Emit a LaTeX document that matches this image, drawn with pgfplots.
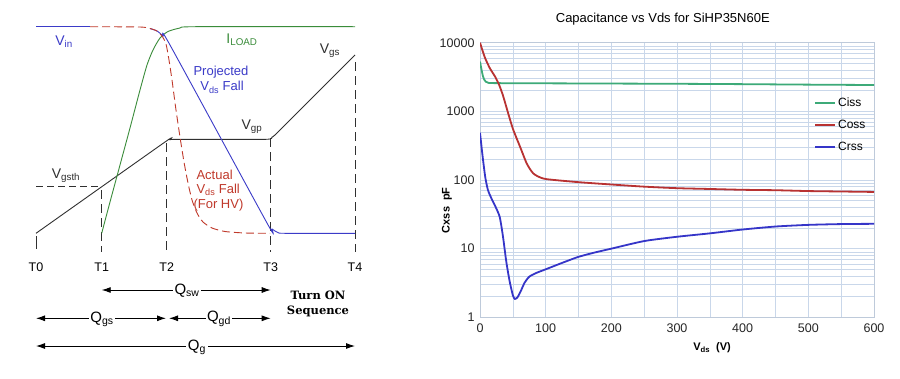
\documentclass[border=0pt]{standalone}
\usepackage{pgfplots}
\pgfplotsset{compat=1.18}
\usetikzlibrary{arrows.meta}
\usepackage{fontspec}
\setmainfont{Liberation Sans}
\newfontfamily\tserif{DejaVu Serif}
\definecolor{lblue}{HTML}{3B3BC8}
\definecolor{lgreen}{HTML}{3A8C3A}
\definecolor{lred}{HTML}{C0392B}
\definecolor{lblack}{HTML}{303030}
\definecolor{cgreen}{HTML}{3DAA78}
\definecolor{cred}{HTML}{B83232}
\definecolor{cblue}{HTML}{3535C8}
\definecolor{gridc}{HTML}{C9D7EA}
\newcommand{\fs}[1]{\fontsize{#1pt}{#1pt}\selectfont}
\begin{document}
\begin{tikzpicture}
\begin{axis}[at={(0,0)}, anchor=south west, scale only axis, width=900pt, height=378pt,
  xmin=0, xmax=900, ymin=0, ymax=378, y dir=reverse, hide axis, clip=false]
\fill[white] (axis cs:0,0) rectangle (axis cs:900,378);
% Vgsth and time markers
\addplot[lblack, line width=0.9pt, dash pattern=on 7pt off 4pt] coordinates {(36,186.7) (100,186.7)};
\addplot[lblack, line width=0.9pt] coordinates {(36,236) (36,249)};
\addplot[lblack, line width=0.9pt, dash pattern=on 9pt off 5pt] coordinates {(101.7,190) (101.7,252)};
\addplot[lblack, line width=0.9pt, dash pattern=on 9pt off 5pt] coordinates {(166.7,143) (166.7,252)};
\addplot[lblack, line width=0.9pt, dash pattern=on 9pt off 5pt] coordinates {(270.7,138) (270.7,252)};
\addplot[lblack, line width=0.9pt, dash pattern=on 9pt off 5pt] coordinates {(355,62) (355,252)};
% Vgs
\addplot[lblack, line width=0.9pt, smooth, tension=0.3] coordinates {(36,233.3) (165,142) (170,139.7) (175,139.3) (266,139.3) (272,137) (278,132) (355,55)};
% ILOAD
\addplot[lgreen, line width=0.9pt, smooth, tension=0.4] coordinates {(101.7,233.3) (110,202) (120,165) (130,128) (140,90) (147,65) (153,50) (160,38) (168,31.5) (180,28) (195,26.7) (355,26.7)};
% Vin / projected Vds
\addplot[lblue, line width=0.9pt] coordinates {(36,26.7) (90,26.7)};
\addplot[lblue, line width=0.9pt, smooth, tension=0.4] coordinates {(150,28.5) (157,31) (163,36) (170,45) (267,223) (272,229) (278,232.5) (285,233.3) (355,233.3)};
% actual Vds
\addplot[lred, line width=0.9pt, dash pattern=on 8pt off 4pt, smooth, tension=0.4] coordinates {(90,26.7) (140,27) (150,28.5) (157,31) (162,36) (166,44) (169,60) (172,80) (176,110) (180,137) (184,162) (188,183) (192,200) (197,213) (203,222) (212,228) (225,231.5) (245,233) (270,233.3)};
% charge arrows
\addplot[black, line width=0.9pt, arrows={Latex[length=9pt,width=6pt]-Latex[length=9pt,width=6pt]}] coordinates {(101.7,290) (270.7,290)};
\addplot[black, line width=0.9pt, arrows={Latex[length=9pt,width=6pt]-Latex[length=9pt,width=6pt]}] coordinates {(36,318.3) (166,318.3)};
\addplot[black, line width=0.9pt, arrows={Latex[length=9pt,width=6pt]-Latex[length=9pt,width=6pt]}] coordinates {(169,318.3) (270.7,318.3)};
\addplot[black, line width=0.9pt, arrows={Latex[length=9pt,width=6pt]-Latex[length=9pt,width=6pt]}] coordinates {(36,346) (355,346)};
% labels
\node[lblue, font=\fs{14}] at (axis cs:64,42) {V\textsubscript{in}};
\node[lgreen, font=\fs{14}] at (axis cs:242,40) {I\textsubscript{LOAD}};
\node[lblack, font=\fs{14}] at (axis cs:330,51) {V\textsubscript{gs}};
\node[lblue, font=\fs{13}] at (axis cs:221,72.5) {Projected};
\node[lblue, font=\fs{13}] at (axis cs:222,87.5) {V\textsubscript{ds} Fall};
\node[lblack, font=\fs{14}] at (axis cs:252,127) {V\textsubscript{gp}};
\node[lblack, font=\fs{14}] at (axis cs:66,176) {V\textsubscript{gsth}};
\node[lred, font=\fs{13}, anchor=west] at (axis cs:193,175) {Actual};
\node[lred, font=\fs{13}, anchor=west] at (axis cs:193,190) {V\textsubscript{ds} Fall};
\node[lred, font=\fs{13}, anchor=west] at (axis cs:190,205) {(For HV)};
\node[font=\fs{12.5}] at (axis cs:36,267) {T0};
\node[font=\fs{12.5}] at (axis cs:101.7,267) {T1};
\node[font=\fs{12.5}] at (axis cs:166.7,267) {T2};
\node[font=\fs{12.5}] at (axis cs:270.7,267) {T3};
\node[font=\fs{12.5}] at (axis cs:355,267) {T4};
\node[font=\fs{15}, fill=white, inner sep=1.5pt] at (axis cs:187,291) {Q\textsubscript{sw}};
\node[font=\fs{15}, fill=white, inner sep=1.5pt] at (axis cs:102,319) {Q\textsubscript{gs}};
\node[font=\fs{15}, fill=white, inner sep=1.5pt] at (axis cs:219,319) {Q\textsubscript{gd}};
\node[font=\fs{15}, fill=white, inner sep=1.5pt] at (axis cs:197,347) {Q\textsubscript{g}};
\node[font={\tserif\bfseries\fs{11.5}}] at (axis cs:318,295.5) {Turn ON};
\node[font={\tserif\bfseries\fs{11.5}}] at (axis cs:318,311.5) {Sequence};
\end{axis}
\begin{axis}[at={(480pt,60.7pt)}, anchor=south west, scale only axis,
  width=394pt, height=274.6pt,
  xmin=0, xmax=600, ymode=log, ymin=1, ymax=10000,
  xtick={0,100,...,600}, minor xtick={50,150,...,550},
  xticklabels={0,100,200,300,400,500,600},
  ytick={1,10,100,1000,10000}, yticklabels={1,10,100,1000,10000},
  /pgf/number format/assume math mode=true,
  ticklabel style={font=\fs{12.5}, text=black!85},
  xticklabel style={yshift=-3pt},
  yticklabel style={xshift=-2pt},
  grid=both, major grid style={gridc, line width=0.7pt}, minor grid style={gridc, line width=0.5pt},
  axis line style={gridc!85!gray, line width=0.7pt},
  major tick length=0pt, minor tick length=0pt,
  title={Capacitance vs Vds for SiHP35N60E},
  title style={font=\fs{13}, at={(axis description cs:0.464,1.064)}, anchor=center},
  xlabel={\bfseries V\textsubscript{ds}\ \ (V)},
  xlabel style={font=\fs{11}, at={(axis description cs:0.589,-0.112)}, anchor=center},
  ylabel={\bfseries Cxss\ \ pF},
  ylabel style={font=\fs{11}, at={(axis description cs:-0.084,0.39)}, anchor=center, rotate=0},
  legend style={at={(axis description cs:0.843,0.815)}, anchor=north west, draw=none, fill=none, font=\fs{12}, row sep=8pt, inner sep=2pt},
  legend cell align=left,
  legend image code/.code={\draw[#1] (0pt,0pt) -- (20pt,0pt);},
  every axis plot/.append style={line width=1.8pt},
]
\addplot[cgreen, smooth, tension=0.4] coordinates {(0,5300) (2,4200) (4,3400) (6,2950) (9,2700) (13,2600) (20,2580) (50,2570) (100,2560) (200,2540) (300,2520) (400,2490) (500,2450) (600,2420)};
\addlegendentry{Ciss}
\addplot[cred, smooth, tension=0.4] coordinates {(0,10000) (4,7600) (8,5900) (15,4250) (23,3200) (29,2450) (35,1700) (43,930) (50,560) (56,400) (61,305) (66,230) (71,175) (76,145) (81,125) (88,113) (101,103) (150,93) (200,86) (250,80) (300,76) (350,74) (400,72) (450,71) (500,69) (550,68) (600,67)};
\addlegendentry{Coss}
\addplot[cblue, smooth, tension=0.4] coordinates {(0,489) (4,220) (8,110) (12,72) (17,55) (23,42) (30,29) (35,15) (40,6.5) (45,3.4) (50,2.1) (53,1.85) (57,1.95) (62,2.4) (68,3.2) (75,3.9) (85,4.4) (100,5.0) (125,6.2) (150,7.6) (175,8.8) (200,10) (250,12.9) (300,14.9) (350,16.7) (400,19) (450,21) (500,22.2) (550,22.8) (600,23)};
\addlegendentry{Crss}
\end{axis}
\end{tikzpicture}
\end{document}
